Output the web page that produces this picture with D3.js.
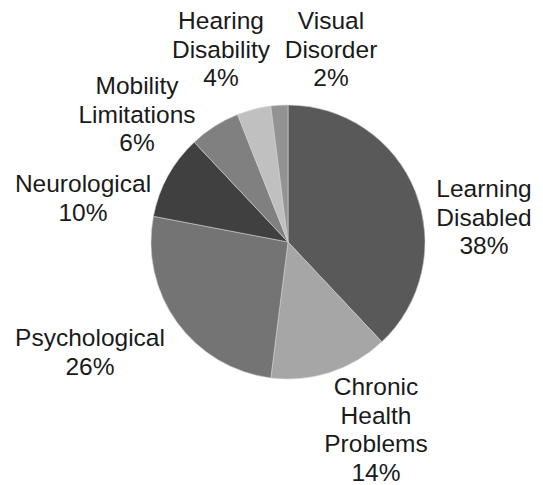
<!DOCTYPE html>
<html>
<head>
<meta charset="utf-8">
<script src="https://cdn.jsdelivr.net/npm/d3@7"></script>
<style>
  html, body { margin: 0; padding: 0; background: #fff; }
  svg { display: block; }
</style>
</head>
<body>
<svg id="chart" width="543" height="485"></svg>
<script>
// Data
const categories = ["Learning Disabled", "Chronic Health Problems", "Psychological", "Neurological", "Mobility Limitations", "Hearing Disability", "Visual Disorder"];
const values = [38, 14, 26, 10, 6, 4, 2];
const labelLines = [
  ["Learning", "Disabled"],
  ["Chronic", "Health", "Problems"],
  ["Psychological"],
  ["Neurological"],
  ["Mobility", "Limitations"],
  ["Hearing", "Disability"],
  ["Visual", "Disorder"]
];
const colors = ["#595959", "#a6a6a6", "#747474", "#404040", "#808080", "#c0c0c0", "#939393"];
// label anchor (center x, first baseline y) - layout only
const labelPos = [
  [484, 197], [376, 395], [90, 346], [83, 192], [137, 94], [221, 29], [331, 29]
];

const svg = d3.select("#chart");
const cx = 288, cy = 242, r = 137;
const lineH = 28.7;

const pie = d3.pie().sort(null).value(d => d)(values);
const arc = d3.arc().innerRadius(0).outerRadius(r);

const g = svg.append("g").attr("transform", `translate(${cx},${cy})`);
g.selectAll("path")
  .data(pie)
  .join("path")
  .attr("d", arc)
  .attr("fill", (d, i) => colors[i])
  .attr("stroke", "#d0d0d0")
  .attr("stroke-width", 0.6);

const fmt = d3.format(".0%");
const total = d3.sum(values);

const labels = svg.selectAll("text.lbl")
  .data(categories)
  .join("text")
  .attr("class", "lbl")
  .attr("text-anchor", "middle")
  .attr("font-family", "'Liberation Sans', Arial, sans-serif")
  .attr("font-size", "24.5px")
  .attr("fill", "#1a1a1a");

labels.each(function(c, i) {
  const t = d3.select(this);
  const lines = labelLines[i].concat([fmt(values[i] / total)]);
  lines.forEach((ln, j) => {
    t.append("tspan")
      .attr("x", labelPos[i][0])
      .attr("y", labelPos[i][1] + j * lineH)
      .text(ln);
  });
});
</script>
</body>
</html>
